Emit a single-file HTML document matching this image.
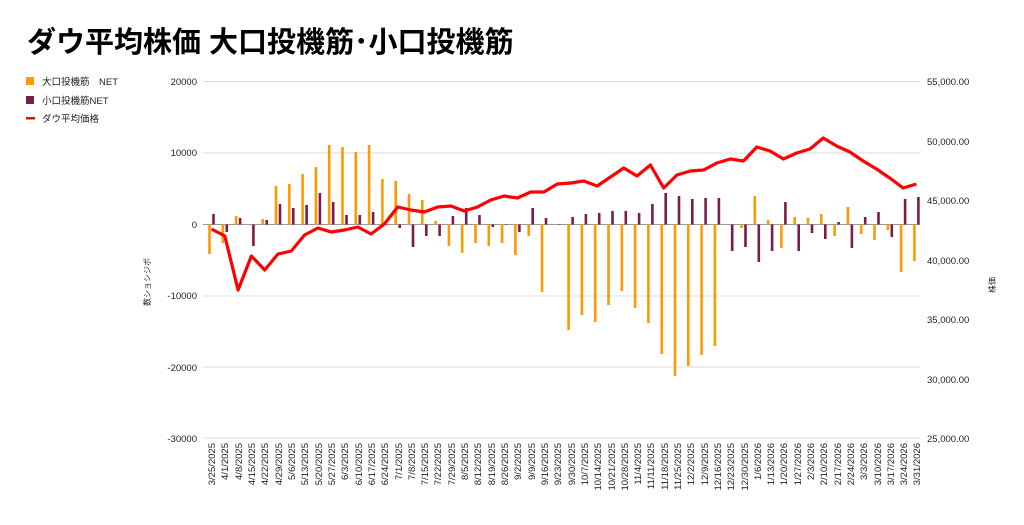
<!DOCTYPE html>
<html><head><meta charset="utf-8"><style>
body{margin:0;background:#fff;}
svg text{font-family:"Liberation Sans","Noto Sans CJK JP",sans-serif;fill:#222;}
</style></head><body>
<svg id="s" width="1024" height="520" xmlns="http://www.w3.org/2000/svg">
<text x="27" y="52" font-size="29" font-weight="bold" style="fill:#000">ダウ平均株価 大口投機筋･小口投機筋</text>
<rect x="26" y="77" width="8" height="8" fill="#ff9900"/>
<text x="42" y="85" font-size="9.5">大口投機筋　NET</text>
<rect x="26" y="96" width="8" height="8" fill="#7b1c4a"/>
<text x="42" y="104" font-size="9.5">小口投機筋NET</text>
<rect x="26" y="117" width="9" height="2.5" fill="#ff0000"/>
<text x="42" y="122" font-size="9.5">ダウ平均価格</text>
<g stroke="#ddd" stroke-width="1">
<line x1="203" x2="920" y1="81.5" y2="81.5"/><line x1="203" x2="920" y1="153" y2="153"/>
<line x1="203" x2="920" y1="296" y2="296"/><line x1="203" x2="920" y1="367" y2="367"/>
<line x1="203" x2="920" y1="438" y2="438"/></g>
<line x1="203" x2="920" y1="224.5" y2="224.5" stroke="#999" stroke-width="1"/>
<g font-size="9.5" text-anchor="end">
<text x="197" y="85">20000</text><text x="197" y="156">10000</text><text x="197" y="228">0</text>
<text x="197" y="299">-10000</text><text x="197" y="371">-20000</text><text x="197" y="442">-30000</text></g>
<g font-size="9.5" text-anchor="start">
<text x="927" y="85">55,000.00</text><text x="927" y="145">50,000.00</text><text x="927" y="204">45,000.00</text>
<text x="927" y="264">40,000.00</text><text x="927" y="323">35,000.00</text><text x="927" y="383">30,000.00</text>
<text x="927" y="442">25,000.00</text></g>
<text transform="translate(150,282) rotate(-90)" font-size="8" text-anchor="middle">数ショシジボ</text>
<text transform="translate(995,285) rotate(-90)" font-size="8" text-anchor="middle">株価</text>
<g id="bars"></g>
<g id="lbl" font-size="9.5" text-anchor="end">
<text transform="translate(215,443) rotate(-90)">3/25/2025</text>
<text transform="translate(228,443) rotate(-90)">4/1/2025</text>
<text transform="translate(242,443) rotate(-90)">4/8/2025</text>
<text transform="translate(255,443) rotate(-90)">4/15/2025</text>
<text transform="translate(268,443) rotate(-90)">4/22/2025</text>
<text transform="translate(282,443) rotate(-90)">4/29/2025</text>
<text transform="translate(295,443) rotate(-90)">5/6/2025</text>
<text transform="translate(308,443) rotate(-90)">5/13/2025</text>
<text transform="translate(322,443) rotate(-90)">5/20/2025</text>
<text transform="translate(335,443) rotate(-90)">5/27/2025</text>
<text transform="translate(348,443) rotate(-90)">6/3/2025</text>
<text transform="translate(362,443) rotate(-90)">6/10/2025</text>
<text transform="translate(375,443) rotate(-90)">6/17/2025</text>
<text transform="translate(388,443) rotate(-90)">6/24/2025</text>
<text transform="translate(402,443) rotate(-90)">7/1/2025</text>
<text transform="translate(415,443) rotate(-90)">7/8/2025</text>
<text transform="translate(428,443) rotate(-90)">7/15/2025</text>
<text transform="translate(441,443) rotate(-90)">7/22/2025</text>
<text transform="translate(455,443) rotate(-90)">7/29/2025</text>
<text transform="translate(468,443) rotate(-90)">8/5/2025</text>
<text transform="translate(481,443) rotate(-90)">8/12/2025</text>
<text transform="translate(495,443) rotate(-90)">8/19/2025</text>
<text transform="translate(508,443) rotate(-90)">8/26/2025</text>
<text transform="translate(521,443) rotate(-90)">9/2/2025</text>
<text transform="translate(535,443) rotate(-90)">9/9/2025</text>
<text transform="translate(548,443) rotate(-90)">9/16/2025</text>
<text transform="translate(561,443) rotate(-90)">9/23/2025</text>
<text transform="translate(575,443) rotate(-90)">9/30/2025</text>
<text transform="translate(588,443) rotate(-90)">10/7/2025</text>
<text transform="translate(601,443) rotate(-90)">10/14/2025</text>
<text transform="translate(615,443) rotate(-90)">10/21/2025</text>
<text transform="translate(628,443) rotate(-90)">10/28/2025</text>
<text transform="translate(641,443) rotate(-90)">11/4/2025</text>
<text transform="translate(654,443) rotate(-90)">11/11/2025</text>
<text transform="translate(668,443) rotate(-90)">11/18/2025</text>
<text transform="translate(681,443) rotate(-90)">11/25/2025</text>
<text transform="translate(694,443) rotate(-90)">12/2/2025</text>
<text transform="translate(708,443) rotate(-90)">12/9/2025</text>
<text transform="translate(721,443) rotate(-90)">12/16/2025</text>
<text transform="translate(734,443) rotate(-90)">12/23/2025</text>
<text transform="translate(748,443) rotate(-90)">12/30/2025</text>
<text transform="translate(761,443) rotate(-90)">1/6/2026</text>
<text transform="translate(774,443) rotate(-90)">1/13/2026</text>
<text transform="translate(787,443) rotate(-90)">1/20/2026</text>
<text transform="translate(801,443) rotate(-90)">1/27/2026</text>
<text transform="translate(814,443) rotate(-90)">2/3/2026</text>
<text transform="translate(827,443) rotate(-90)">2/10/2026</text>
<text transform="translate(841,443) rotate(-90)">2/17/2026</text>
<text transform="translate(854,443) rotate(-90)">2/24/2026</text>
<text transform="translate(867,443) rotate(-90)">3/3/2026</text>
<text transform="translate(881,443) rotate(-90)">3/10/2026</text>
<text transform="translate(894,443) rotate(-90)">3/17/2026</text>
<text transform="translate(907,443) rotate(-90)">3/24/2026</text>
<text transform="translate(920,443) rotate(-90)">3/31/2026</text>
</g>
</svg>
<script>
var O=[254,243,216,224,219,186,184,174,167,145,147,152,145,179,181,194,200,221,246,253,243,246,243,255,236,292,224,330,315,322,305,291,308,323,354,376,366,355,346,225,228,196,220,248,217,218,214,236,207,234,240,230,272,261];
var P=[214,232,218,246,220,204,208,205,193,202,215,215,212,224,228,247,236,236,216,208,215,227,224,232,208,218,224,217,214,213,211,211,213,204,193,196,199,198,198,251,247,262,251,202,251,233,239,222,248,217,212,237,199,197];
var L=[229,236,290,256,270,254,251,235,228,232,230,227,234,224,207,210,212,207,206,211,207,200,196,198,192,192,184,183,181,186,177,168,176,165,188,175,171,170,163,159,161,147,151,159,153,149,138,146,152,161,169,178,188,184];
var g=document.getElementById('bars'),h='',pts=[];
function r(x,y,col){var z=224.5,t=Math.min(y,z),hh=Math.abs(y-z);if(hh<0.5)return '';return '<rect x="'+x+'" y="'+t+'" width="2.6" height="'+hh+'" fill="'+col+'"/>';}
for(var i=0;i<54;i++){var c=211.5+13.3*i;
h+=r(c-3.3,O[i],'#ff9900');h+=r(c+0.7,P[i],'#7b1c4a');pts.push(c.toFixed(1)+','+L[i]);}
h+='<polyline points="'+pts.join(' ')+'" fill="none" stroke="#ff0000" stroke-width="3.2" stroke-linejoin="round"/>';
g.innerHTML=h;
</script>
</body></html>
